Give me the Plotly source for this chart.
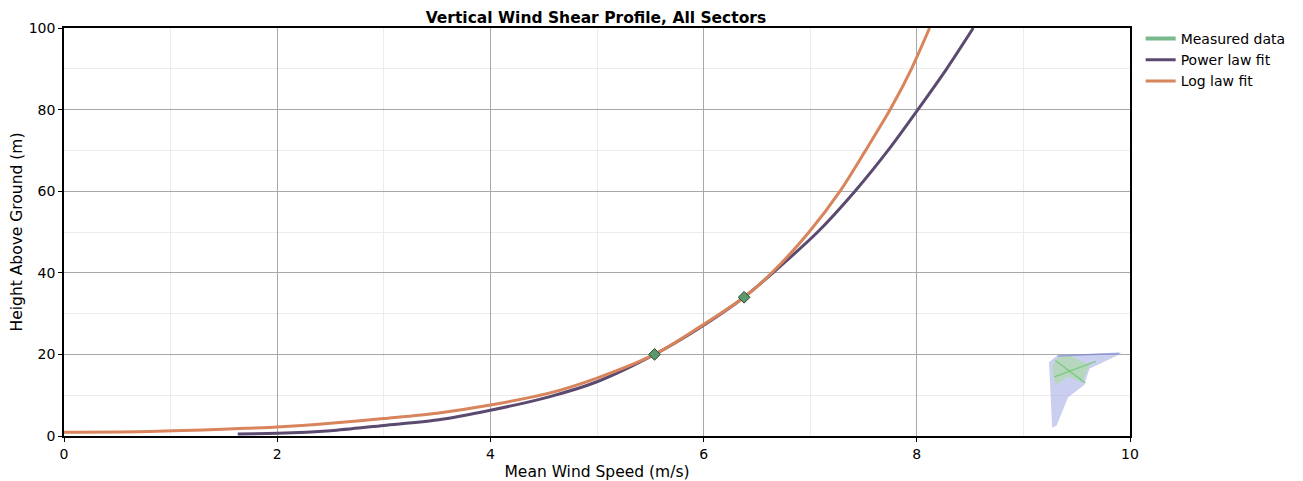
import plotly.graph_objects as go

# Measured data
meas_speed = [5.54, 6.38]
meas_height = [20, 34]

# Power law fit
pow_speed = [1.63, 2.0, 2.5, 3.0, 3.5, 4.0, 4.55, 5.0, 5.54, 5.95, 6.38, 6.65, 7.07, 7.42, 7.73, 8.01, 8.28, 8.53]
pow_height = [0.5, 0.65, 1.3, 2.6, 3.9, 6.3, 9.6, 13.3, 20, 26.3, 34, 40, 50, 60, 70, 80, 90, 100]

# Log law fit
log_speed = [0, 0.8, 1.3, 1.7, 2.0, 2.5, 3.0, 3.5, 4.0, 4.55, 5.0, 5.54, 5.95, 6.38, 6.64, 6.99, 7.28, 7.52, 7.75, 7.95, 8.12]
log_height = [0.9, 1.1, 1.5, 1.9, 2.2, 3.1, 4.3, 5.6, 7.6, 10.5, 14.2, 20, 26.5, 34, 40, 50, 60, 70, 80, 90, 100]

x_ticks = [0, 2, 4, 6, 8, 10]
y_ticks = [0, 20, 40, 60, 80, 100]

PURPLE = "#5b4a6f"
ORANGE = "#d8845c"
FONT = "DejaVu Sans, Verdana, sans-serif"

fig = go.Figure()

fig.add_trace(go.Scatter(x=[None], y=[None], mode="lines", name="Measured data",
                         line=dict(color="#7ab88e", width=4)))
fig.add_trace(go.Scatter(x=pow_speed, y=pow_height, mode="lines", name="Power law fit",
                         line=dict(color=PURPLE, width=3, shape="spline", smoothing=0.8)))
fig.add_trace(go.Scatter(x=log_speed, y=log_height, mode="lines", name="Log law fit",
                         line=dict(color=ORANGE, width=3, shape="spline", smoothing=0.8)))
fig.add_trace(go.Scatter(x=meas_speed, y=meas_height, mode="markers", showlegend=False,
                         marker=dict(symbol="diamond", size=9, color="#5a9a6a",
                                     line=dict(color="#2c4a33", width=1))))

# faint logo in lower right corner
fig.add_shape(type="path", xref="x", yref="y", layer="above",
              path="M 9.27 2.0 L 9.24 18.1 L 9.32 19.8 L 9.92 20.4 L 9.88 19.7 L 9.62 16.5 L 9.57 12.5 L 9.42 9.5 L 9.31 2.5 Z",
              fillcolor="rgba(150,160,225,0.5)", line=dict(width=0))
fig.add_shape(type="path", xref="x", yref="y", layer="above",
              path="M 9.27 17.0 L 9.33 19.5 L 9.45 19.6 L 9.62 17.2 L 9.55 13.2 L 9.42 14.5 L 9.3 12.5 Z",
              fillcolor="rgba(165,220,150,0.55)", line=dict(width=0))
fig.add_shape(type="line", xref="x", yref="y", layer="above",
              x0=9.3, y0=18.5, x1=9.58, y1=13.0, line=dict(color="rgba(110,200,110,0.8)", width=1.5))
fig.add_shape(type="line", xref="x", yref="y", layer="above",
              x0=9.29, y0=14.5, x1=9.68, y1=18.3, line=dict(color="rgba(110,200,110,0.8)", width=1.5))
fig.add_shape(type="line", xref="x", yref="y", layer="above",
              x0=9.32, y0=19.6, x1=9.9, y1=20.3, line=dict(color="rgba(120,130,210,0.6)", width=1.5))

axis_common = dict(
    showline=True, linecolor="black", linewidth=1.5, mirror=True,
    ticks="outside", ticklen=4, tickcolor="black",
    tickfont=dict(family=FONT, size=14, color="black"),
    showgrid=True, gridcolor="#a8a8a8", gridwidth=1,
    minor=dict(showgrid=True, gridcolor="#ececec", gridwidth=1, ticks=""),
    zeroline=False, automargin=False,
)

fig.update_xaxes(range=[0, 10], tickvals=x_ticks, title=dict(text="Mean Wind Speed (m/s)",
                 font=dict(family=FONT, size=15.5, color="black"), standoff=6),
                 minor_dtick=1, **axis_common)
fig.update_yaxes(range=[0, 100], tickvals=y_ticks, title=dict(text="Height Above Ground (m)",
                 font=dict(family=FONT, size=15.5, color="black"), standoff=8),
                 minor_dtick=10, **axis_common)

# the page adds an 8px body margin, so the figure is sized 8px smaller
fig.update_layout(
    width=1295, height=473,
    margin=dict(l=56, r=170, t=20, b=45, pad=0),
    paper_bgcolor="white", plot_bgcolor="white",
    title=dict(text="<b>Vertical Wind Shear Profile, All Sectors</b>", x=0.454, xanchor="center",
               y=0.979, yanchor="middle", font=dict(family=FONT, size=15.5, color="black")),
    legend=dict(x=1.01, y=1.0123, xanchor="left", yanchor="top",
                font=dict(family=FONT, size=14, color="black"),
                bgcolor="rgba(0,0,0,0)", tracegroupgap=0, itemwidth=30),
    showlegend=True,
)

fig.write_html("out.html")
